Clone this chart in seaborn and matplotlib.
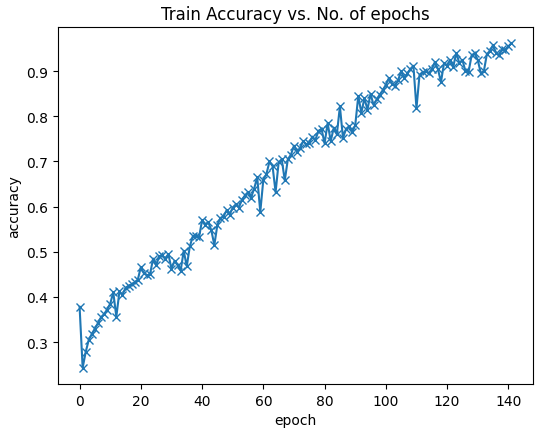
import matplotlib
matplotlib.use("Agg")
import matplotlib.pyplot as plt
import seaborn as sns
import pandas as pd

# Training accuracy recorded at the end of each epoch
accuracy = [
    0.378, 0.243, 0.278, 0.305, 0.318, 0.330, 0.342, 0.355, 0.362, 0.372,
    0.385, 0.410, 0.356, 0.412, 0.405, 0.420, 0.425, 0.428, 0.432, 0.438,
    0.466, 0.452, 0.448, 0.450, 0.485, 0.470, 0.490, 0.492, 0.485, 0.495,
    0.462, 0.480, 0.470, 0.458, 0.502, 0.468, 0.512, 0.535, 0.536, 0.532,
    0.570, 0.560, 0.566, 0.548, 0.515, 0.560, 0.575, 0.578, 0.592, 0.582,
    0.598, 0.605, 0.598, 0.615, 0.625, 0.632, 0.620, 0.640, 0.665, 0.588,
    0.660, 0.672, 0.700, 0.690, 0.632, 0.698, 0.705, 0.658, 0.705, 0.715,
    0.735, 0.722, 0.730, 0.745, 0.738, 0.742, 0.755, 0.748, 0.768, 0.772,
    0.740, 0.785, 0.745, 0.775, 0.760, 0.822, 0.752, 0.772, 0.778, 0.765,
    0.780, 0.845, 0.808, 0.840, 0.815, 0.850, 0.825, 0.838, 0.848, 0.858,
    0.870, 0.885, 0.872, 0.868, 0.880, 0.900, 0.885, 0.895, 0.905, 0.912,
    0.818, 0.892, 0.898, 0.900, 0.895, 0.905, 0.920, 0.905, 0.876, 0.918,
    0.912, 0.925, 0.910, 0.940, 0.918, 0.925, 0.900, 0.898, 0.935, 0.940,
    0.925, 0.896, 0.900, 0.938, 0.945, 0.958, 0.940, 0.935, 0.950, 0.948,
    0.955, 0.962,
]
epochs = list(range(len(accuracy)))

df = pd.DataFrame({"epoch": epochs, "accuracy": accuracy})

fig = plt.figure(figsize=(5.35, 4.31), dpi=100)
ax = fig.add_axes([58 / 535, 46 / 431, 475 / 535, 357 / 431])

sns.lineplot(
    data=df, x="epoch", y="accuracy", ax=ax,
    color="#1f77b4", linewidth=1.5,
    marker="x", markersize=6,
    markeredgecolor="#1f77b4", markeredgewidth=1.0,
)

ax.set_title("Train Accuracy vs. No. of epochs")
ax.set_xlabel("epoch")
ax.set_ylabel("accuracy")

fig.savefig("out.png", dpi=100)
